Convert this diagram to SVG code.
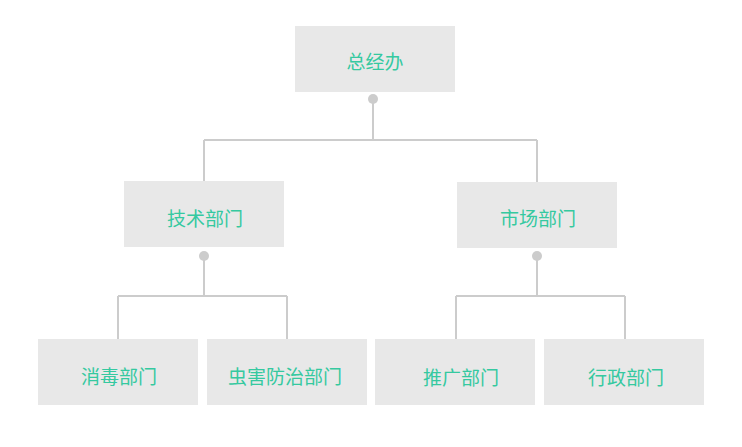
<svg xmlns="http://www.w3.org/2000/svg" width="742" height="447" viewBox="0 0 742 447">
<style>
.box{fill:#e8e8e8}
.lbl{font-family:"Noto Sans CJK SC","Noto Sans",sans-serif;font-size:19px;fill:#35c9a0;text-anchor:middle;dominant-baseline:central}
.ln{fill:none;stroke:#cccccc;stroke-width:2}
.dot{fill:#cccccc}
</style>
<rect width="742" height="447" fill="#ffffff"/>
<g id="connectors">
<path class="ln" d="M373 99V140M204 140H537M204 140V181M537 140V182"/>
<path class="ln" d="M204 256V296M118 296H287M118 296V339M287 296V339"/>
<path class="ln" d="M537 256V296M456 296H625M456 296V339M625 296V339"/>
<circle class="dot" cx="373" cy="99" r="5"/>
<circle class="dot" cx="204" cy="256" r="5"/>
<circle class="dot" cx="537" cy="256" r="5"/>
</g>
<g id="n-top"><rect class="box" x="295" y="26" width="160" height="66"/><text class="lbl" x="375" y="60">总经办</text></g>
<g id="n-tech"><rect class="box" x="124" y="181" width="160" height="66"/><text class="lbl" x="205" y="217">技术部门</text></g>
<g id="n-market"><rect class="box" x="457" y="182" width="160" height="66"/><text class="lbl" x="538" y="217">市场部门</text></g>
<g id="n-disinfect"><rect class="box" x="38" y="339" width="160" height="66"/><text class="lbl" x="119" y="375">消毒部门</text></g>
<g id="n-pest"><rect class="box" x="207" y="339" width="160" height="66"/><text class="lbl" x="285" y="375">虫害防治部门</text></g>
<g id="n-promo"><rect class="box" x="375" y="339" width="160" height="66"/><text class="lbl" x="461" y="376">推广部门</text></g>
<g id="n-admin"><rect class="box" x="544" y="339" width="160" height="66"/><text class="lbl" x="626" y="376">行政部门</text></g>
</svg>
